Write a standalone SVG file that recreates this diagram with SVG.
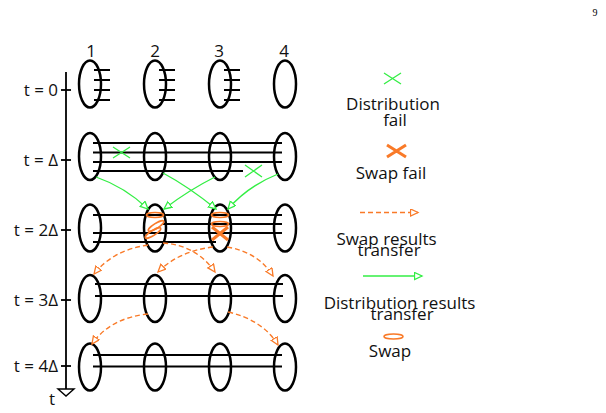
<svg xmlns="http://www.w3.org/2000/svg" width="606" height="413" viewBox="0 0 606 413">
<style>
.t{font-family:"Open Sans","Liberation Sans",sans-serif;font-size:17px;fill:#111}
.tc{text-anchor:middle}
.te{text-anchor:end}
.node{fill:none;stroke:#000;stroke-width:2.5}
.q{stroke:#000;stroke-width:1.8;fill:none}
.g{stroke:#33ee44;stroke-width:1.3;fill:none}
.o{stroke:#f97a28;stroke-width:1.4;fill:none;stroke-dasharray:5 3}
.ox{stroke:#f97a28;stroke-width:3;fill:none}
.sw{stroke:#f97a28;stroke-width:1.6;fill:none}
</style>
<defs>
<marker id="ag" markerWidth="10" markerHeight="10" refX="8" refY="4" orient="auto" markerUnits="userSpaceOnUse"><path d="M0.5,0.5 L8,4 L0.5,7.5 z" fill="#fff" stroke="#33ee44" stroke-width="1.3"/></marker>
<marker id="ao" markerWidth="10" markerHeight="10" refX="8" refY="4" orient="auto" markerUnits="userSpaceOnUse"><path d="M0.5,0.5 L8,4 L0.5,7.5 z" fill="#fff" stroke="#f97a28" stroke-width="1.3"/></marker>
</defs>
<rect width="606" height="413" fill="#fff"/>
<text x="595" y="16" style="font-family:'Liberation Serif',serif;font-size:10px" text-anchor="middle">9</text>

<g id="axis">
<line x1="66" y1="72" x2="66" y2="389" stroke="#000" stroke-width="1.8"/>
<path d="M58,389 L74,389 L66,396 z" fill="#fff" stroke="#000" stroke-width="1.4"/>
<line x1="61" y1="90" x2="71" y2="90" stroke="#000" stroke-width="1.8"/>
<line x1="61" y1="160" x2="71" y2="160" stroke="#000" stroke-width="1.8"/>
<line x1="61" y1="230" x2="71" y2="230" stroke="#000" stroke-width="1.8"/>
<line x1="61" y1="300" x2="71" y2="300" stroke="#000" stroke-width="1.8"/>
<line x1="61" y1="366" x2="71" y2="366" stroke="#000" stroke-width="1.8"/>
<text class="t te" x="58" y="96">t = 0</text>
<text class="t te" x="58" y="166">t = Δ</text>
<text class="t te" x="58" y="236">t = 2Δ</text>
<text class="t te" x="58" y="306">t = 3Δ</text>
<text class="t te" x="58" y="372">t = 4Δ</text>
<text class="t tc" x="52" y="405">t</text>
</g>

<g id="colLabels">
<text class="t tc" x="91" y="57">1</text>
<text class="t tc" x="155" y="57">2</text>
<text class="t tc" x="219" y="57">3</text>
<text class="t tc" x="284" y="57">4</text>
</g>

<g id="links">
<!-- t=0 stubs -->
<path class="q" d="M94,70H110M94,80H110M94,90H110M94,100H110"/>
<path class="q" d="M159,70H175M159,80H175M159,90H175M159,100H175"/>
<path class="q" d="M224,70H240M224,80H240M224,90H240M224,100H240"/>
<!-- t=Δ -->
<path class="q" d="M93,143H282M93,152.5H282M93,162H282M93,171H243"/>
<!-- t=2Δ -->
<path class="q" d="M93,215H282M163,224H282M93,233H282M93,242H216"/>
<!-- t=3Δ -->
<path class="q" d="M95,284H283M95,296H283"/>
<!-- t=4Δ -->
<path class="q" d="M93,355H282M93,366.5H282"/>
</g>

<g id="row0">
<ellipse class="node" cx="90" cy="84" rx="11" ry="23.5"/>
<ellipse class="node" cx="155" cy="84" rx="11" ry="23.5"/>
<ellipse class="node" cx="220" cy="84" rx="11" ry="23.5"/>
<ellipse class="node" cx="285" cy="84" rx="11" ry="23.5"/>
</g>
<g id="row1">
<ellipse class="node" cx="90" cy="156.5" rx="11" ry="23.5"/>
<ellipse class="node" cx="155" cy="156.5" rx="11" ry="23.5"/>
<ellipse class="node" cx="220" cy="156.5" rx="11" ry="23.5"/>
<ellipse class="node" cx="285" cy="156.5" rx="11" ry="23.5"/>
</g>
<g id="row2">
<ellipse class="node" cx="90" cy="228" rx="11" ry="23.5"/>
<ellipse class="node" cx="155" cy="228" rx="11" ry="23.5"/>
<ellipse class="node" cx="220" cy="228" rx="11" ry="23.5"/>
<ellipse class="node" cx="285" cy="228" rx="11" ry="23.5"/>
</g>
<g id="row3">
<ellipse class="node" cx="90" cy="298.5" rx="11" ry="23.5"/>
<ellipse class="node" cx="155" cy="298.5" rx="11" ry="23.5"/>
<ellipse class="node" cx="220" cy="298.5" rx="11" ry="23.5"/>
<ellipse class="node" cx="285" cy="298.5" rx="11" ry="23.5"/>
</g>
<g id="row4">
<ellipse class="node" cx="90" cy="367" rx="11" ry="23.5"/>
<ellipse class="node" cx="155" cy="367" rx="11" ry="23.5"/>
<ellipse class="node" cx="220" cy="367" rx="11" ry="23.5"/>
<ellipse class="node" cx="285" cy="367" rx="11" ry="23.5"/>
</g>

<g id="marks">
<path class="g" d="M113,147L130,158M113,158L130,147"/>
<path class="g" d="M245,165L262,177M245,177L262,165"/>
<ellipse class="sw" cx="155" cy="215" rx="8.5" ry="2.5"/>
<ellipse class="sw" cx="156" cy="226" rx="9" ry="2.5" transform="rotate(-32 156 226)"/>
<ellipse class="sw" cx="153" cy="233" rx="9" ry="2.5" transform="rotate(-32 153 233)"/>
<ellipse class="sw" cx="220" cy="215" rx="8.5" ry="2.5"/>
<ellipse class="sw" cx="220" cy="224" rx="8.5" ry="2.5"/>
<path class="ox" d="M212,227L228,240M212,240L228,227"/>
</g>

<g id="connectors">
<path class="g" d="M96,177 Q125,187 148,209" marker-end="url(#ag)"/>
<path class="g" d="M163,173 Q189,187 216,209" marker-end="url(#ag)"/>
<path class="g" d="M215,177 Q189,190 164,209" marker-end="url(#ag)"/>
<path class="g" d="M278,174 Q248,186 228,209" marker-end="url(#ag)"/>
<path class="o" d="M148,245 Q113,250 94,274" marker-end="url(#ao)"/>
<path class="o" d="M163,243 Q196,245 215,272" marker-end="url(#ao)"/>
<path class="o" d="M213,247 Q179,251 158,272" marker-end="url(#ao)"/>
<path class="o" d="M227,247 Q258,252 273,276" marker-end="url(#ao)"/>
<path class="o" d="M148,314 Q110,318 92,344" marker-end="url(#ao)"/>
<path class="o" d="M228,312 Q263,320 278,345" marker-end="url(#ao)"/>
</g>

<g id="legend">
<path class="g" d="M384,73L401,84M384,84L401,73"/>
<text class="t tc" x="393" y="110">Distribution</text>
<text class="t tc" x="395" y="126">fail</text>
<path class="ox" d="M387,145L406,157M387,157L406,145"/>
<text class="t tc" x="391" y="179">Swap fail</text>
<path class="o" d="M360,212.5H418" marker-end="url(#ao)"/>
<text class="t tc" x="386.5" y="245">Swap results</text>
<text class="t tc" x="389" y="256">transfer</text>
<path class="g" d="M363,276H422" marker-end="url(#ag)"/>
<text class="t tc" x="399.5" y="309">Distribution results</text>
<text class="t tc" x="402" y="320">transfer</text>
<ellipse class="sw" cx="393.5" cy="336.5" rx="9.5" ry="2.5"/>
<text class="t tc" x="390" y="357">Swap</text>
</g>
</svg>
